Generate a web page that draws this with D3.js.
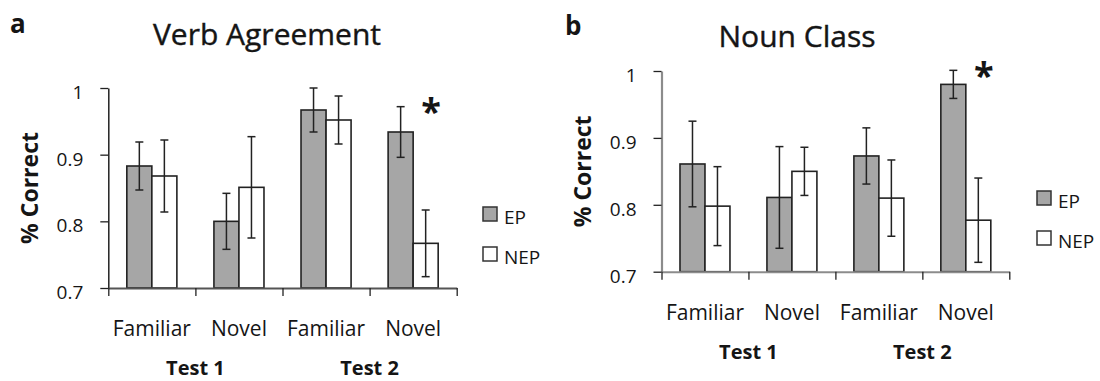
<!DOCTYPE html>
<html>
<head>
<meta charset="utf-8">
<script src="https://cdn.jsdelivr.net/npm/d3@7"></script>
<style>
  body { margin: 0; background: #fff; }
  svg { display: block; }
  text { font-family: "Open Sans", sans-serif; fill: #151515; }
</style>
</head>
<body>
<svg id="chart" width="1100" height="381"></svg>
<script>
// Conditions along the x axis, and the test each pair belongs to
const conditions = ["Familiar", "Novel", "Familiar", "Novel"];
const tests = ["Test 1", "Test 2"];
const groups = ["EP", "NEP"];
const yTicks = [0.7, 0.8, 0.9, 1];

// Verb agreement: proportion correct and standard error
const verbEP     = [0.883, 0.800, 0.967, 0.934];
const verbEPErr  = [0.036, 0.042, 0.033, 0.038];
const verbNEP    = [0.868, 0.851, 0.952, 0.767];
const verbNEPErr = [0.054, 0.076, 0.036, 0.050];

// Noun class: proportion correct and standard error
const nounEP     = [0.861, 0.811, 0.873, 0.980];
const nounEPErr  = [0.064, 0.076, 0.042, 0.021];
const nounNEP    = [0.798, 0.850, 0.810, 0.777];
const nounNEPErr = [0.059, 0.036, 0.057, 0.063];

// Conditions with a significant EP vs NEP difference
const verbSignificant = [false, false, false, true];
const nounSignificant = [false, false, false, true];

const fills = { EP: "#a6a6a6", NEP: "#ffffff" };
const dark = "#222";

const svg = d3.select("#chart");

const panels = [
  {
    letter: "a", title: "Verb Agreement",
    values: { EP: verbEP, NEP: verbNEP }, errors: { EP: verbEPErr, NEP: verbNEPErr },
    significant: verbSignificant,
    left: 108.3, right: 456.7, top: 88, bottom: 288,
    yAxisColor: "#222", xAxisColor: "#555",
    titleX: 267, titleY: 45, letterX: 10, letterY: 33, yLabelX: 38,
    legendX: 483, legendY: 207
  },
  {
    letter: "b", title: "Noun Class",
    values: { EP: nounEP, NEP: nounNEP }, errors: { EP: nounEPErr, NEP: nounNEPErr },
    significant: nounSignificant,
    left: 661.5, right: 1009.3, top: 71, bottom: 271.7,
    yAxisColor: "#8c8c8c", xAxisColor: "#8c8c8c",
    titleX: 797, titleY: 47, letterX: 565, letterY: 35, yLabelX: 591,
    legendX: 1037, legendY: 191
  }
];

panels.forEach(p => {
  const g = svg.append("g");

  const y = d3.scaleLinear().domain([0.7, 1]).range([p.bottom, p.top]);
  const x = d3.scaleBand().domain(d3.range(conditions.length)).range([p.left, p.right])
    .paddingInner(0).paddingOuter(0);
  const xInner = d3.scaleBand().domain(groups).range([0, x.bandwidth()])
    .paddingInner(0).paddingOuter(0.74);
  const xEdges = d3.scaleLinear().domain([0, conditions.length]).range([p.left, p.right]);

  // Panel letter and title
  g.append("text").attr("x", p.letterX).attr("y", p.letterY)
    .attr("font-size", 26).attr("font-weight", 700).text(p.letter);
  g.append("text").attr("x", p.titleX).attr("y", p.titleY)
    .attr("text-anchor", "middle").attr("font-size", 30)
    .attr("stroke", "#151515").attr("stroke-width", 0.4).text(p.title);

  // Bars
  const rows = [];
  conditions.forEach((c, i) => groups.forEach(grp => rows.push({
    i, grp, v: p.values[grp][i], e: p.errors[grp][i]
  })));

  g.selectAll("rect.bar").data(rows).join("rect")
    .attr("class", "bar")
    .attr("x", d => x(d.i) + xInner(d.grp))
    .attr("width", xInner.bandwidth())
    .attr("y", d => y(d.v))
    .attr("height", d => y(0.7) - y(d.v))
    .attr("fill", d => fills[d.grp])
    .attr("stroke", dark).attr("stroke-width", 1.6);

  // Error bars
  const eb = g.selectAll("g.err").data(rows).join("g").attr("class", "err")
    .attr("transform", d => `translate(${x(d.i) + xInner(d.grp) + xInner.bandwidth() / 2},0)`);
  eb.append("line").attr("x1", 0).attr("x2", 0)
    .attr("y1", d => y(d.v + d.e)).attr("y2", d => y(d.v - d.e))
    .attr("stroke", dark).attr("stroke-width", 1.5);
  eb.append("line").attr("x1", -4).attr("x2", 4)
    .attr("y1", d => y(d.v + d.e)).attr("y2", d => y(d.v + d.e))
    .attr("stroke", dark).attr("stroke-width", 1.5);
  eb.append("line").attr("x1", -4).attr("x2", 4)
    .attr("y1", d => y(d.v - d.e)).attr("y2", d => y(d.v - d.e))
    .attr("stroke", dark).attr("stroke-width", 1.5);

  // Y axis
  const yAxis = g.append("g").attr("transform", `translate(${p.left},0)`)
    .call(d3.axisLeft(y).tickValues(yTicks).tickSize(8).tickSizeOuter(0).tickPadding(17)
      .tickFormat(d => d === 1 ? "1" : d3.format(".1f")(d)));
  yAxis.select(".domain").attr("stroke", p.yAxisColor)
    .attr("stroke-width", p.yAxisColor === "#222" ? 1.5 : 2.2);
  yAxis.selectAll(".tick line").attr("stroke", dark).attr("stroke-width", 1.3);
  yAxis.selectAll(".tick text").attr("font-size", 19).attr("font-family", "Open Sans")
    .attr("fill", "#151515").attr("dy", "0.55em");

  // X axis with ticks at the category boundaries
  const xAxis = g.append("g").attr("transform", `translate(0,${p.bottom})`)
    .call(d3.axisBottom(xEdges).tickValues(d3.range(conditions.length + 1))
      .tickSize(8).tickSizeOuter(0).tickFormat(""));
  xAxis.select(".domain").attr("stroke", p.xAxisColor).attr("stroke-width", 2);
  xAxis.selectAll(".tick line").attr("stroke", dark).attr("stroke-width", 1.3);

  // Category labels
  g.selectAll("text.cond").data(conditions).join("text").attr("class", "cond")
    .attr("x", (d, i) => x(i) + x.bandwidth() / 2)
    .attr("y", p.bottom + 48)
    .attr("text-anchor", "middle").attr("font-size", 21).text(d => d);

  // Test labels under each pair of conditions
  g.selectAll("text.test").data(tests).join("text").attr("class", "test")
    .attr("x", (d, t) => (x(2 * t) + x(2 * t + 1) + x.bandwidth()) / 2)
    .attr("y", p.bottom + 87)
    .attr("text-anchor", "middle").attr("font-size", 20).attr("font-weight", 700).text(d => d);

  // Y axis title
  g.append("text")
    .attr("transform", `translate(${p.yLabelX},${(p.top + p.bottom) / 2}) rotate(-90)`)
    .attr("text-anchor", "middle").attr("font-size", 23).attr("font-weight", 700)
    .text("% Correct");

  // Significance markers beside the highest error bar of the pair
  p.significant.forEach((s, i) => {
    if (!s) return;
    const top = d3.max(groups, grp => p.values[grp][i] + p.errors[grp][i]);
    g.append("text")
      .attr("x", x(i) + x.bandwidth() / 2 + 18)
      .attr("y", y(top))
      .attr("dy", "0.48em")
      .attr("text-anchor", "middle").attr("font-size", 36).attr("font-weight", 700)
      .text("*");
  });

  // Legend
  const lg = g.selectAll("g.legend").data(groups).join("g").attr("class", "legend")
    .attr("transform", (d, k) => `translate(${p.legendX},${p.legendY + k * 40})`);
  lg.append("rect").attr("width", 14).attr("height", 14)
    .attr("fill", d => fills[d]).attr("stroke", "#333").attr("stroke-width", 1.5);
  lg.append("text").attr("x", 21).attr("y", 16.5).attr("font-size", 19).text(d => d);
});
</script>
</body>
</html>
